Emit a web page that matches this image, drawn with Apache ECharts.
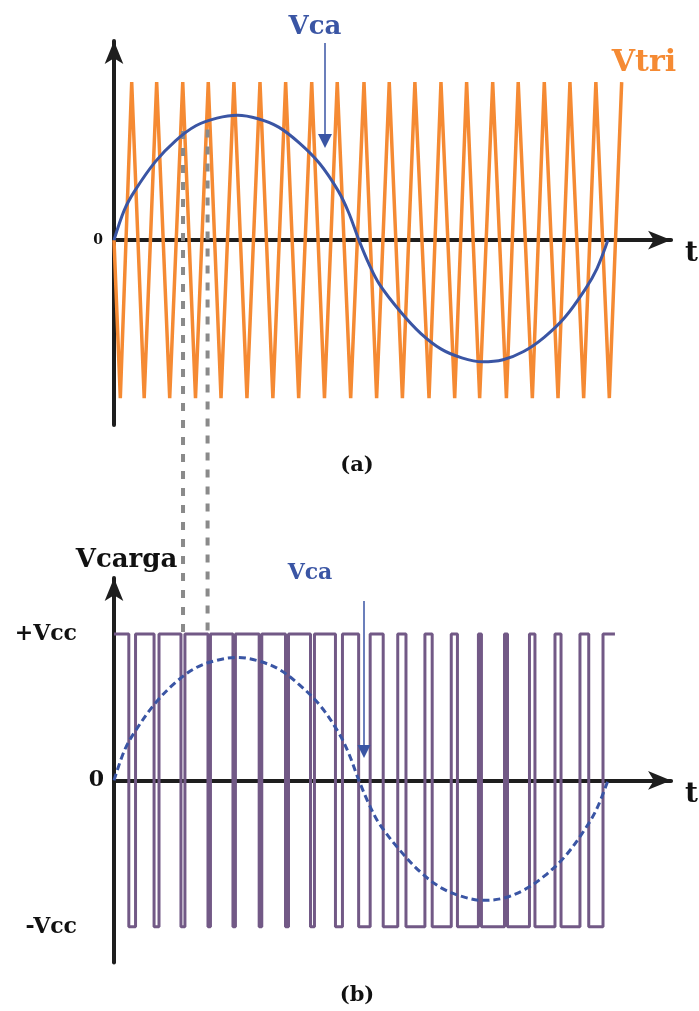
<!DOCTYPE html>
<html>
<head>
<meta charset="utf-8">
<script src="https://cdn.jsdelivr.net/npm/echarts@6/dist/echarts.min.js"></script>
<style>
  html, body { margin: 0; padding: 0; background: #ffffff; }
  #chart { width: 699px; height: 1011px; }
</style>
</head>
<body>
<div id="chart"></div>
<script>
// Modulating wave Vca: time in degrees of its period, value in carrier-peak units
const vcaTimes = [0, 7.5, 15, 30, 45, 60, 75, 90, 105, 120, 135, 150, 163.5, 171, 178.5,
  186, 193.5, 208.5, 223.5, 238.5, 253.5, 268.5, 283.5, 298.5, 313.5, 328.5, 343.5, 352, 360];
const vcaValues = [0, 0.19, 0.31, 0.495, 0.63, 0.725, 0.772, 0.79, 0.768, 0.715, 0.615, 0.483, 0.31, 0.175, 0,
  -0.155, -0.28, -0.45, -0.59, -0.69, -0.745, -0.77, -0.757, -0.705, -0.615, -0.49, -0.31, -0.18, 0];

// Triangular carrier Vtri: start value, then alternating valleys (-1) and peaks (+1)
const carrierStart = 0;
const carrierValleys = [4.6, 22.0, 40.6, 59.4, 78.0, 96.9, 115.8, 134.6, 153.4, 172.5,
  191.4, 210.2, 229.6, 248.3, 266.5, 286.0, 304.9, 323.6, 342.3, 361.0];
const carrierPeaks = [12.9, 31.1, 50.1, 68.7, 87.4, 106.4, 125.1, 144.1, 162.7, 182.2,
  200.6, 219.3, 238.3, 257.0, 276.0, 294.6, 313.6, 332.3, 351.2, 370.0];
const carrierLow = -1;
const carrierHigh = 1;

// Load voltage Vcarga: starts at +Vcc and toggles at each switching instant
const vccLevel = 0.94;
const switchTimes = [10.8, 15.7, 29.2, 32.8, 48.8, 51.7, 68.5, 70.3, 86.7, 88.5, 105.8, 107.7,
  125.0, 127.2, 143.2, 146.1, 161.4, 166.5, 178.3, 186.7, 196.2, 206.8, 212.8, 226.6, 231.9,
  245.8, 250.3, 265.6, 267.8, 284.6, 286.8, 302.8, 306.8, 321.4, 325.8, 339.6, 346.0, 356.4];
const pwmEnd = 365.1;

// Dotted projection lines from the comparison (a) down to the pulses (b)
const guideTimes = [50.3, 68.2];
const guideStartLevels = [0.69, 0.70];

// Pointer arrows for the Vca labels: [time, from value, to value]
const vcaPointerTop = [153.8, 1.247, 0.627];
const vcaPointerBottom = [182.2, 1.152, 0.186];

const timeMax = 406;

const ORANGE = '#F58A33';
const BLUE = '#3A55A4';
const PURPLE = '#725986';
const GRAY = '#8A8A8A';
const INK = '#1E1E1E';
const FONT = 'DejaVu Serif';

const vcaData = vcaTimes.map((t, i) => [t, vcaValues[i]]);

const carrierData = [[0, carrierStart]];
carrierValleys.forEach((t, i) => {
  carrierData.push([t, carrierLow]);
  carrierData.push([carrierPeaks[i], carrierHigh]);
});

const pwmData = [[0, vccLevel]];
let level = vccLevel;
switchTimes.forEach(t => {
  pwmData.push([t, level]);
  level = -level;
  pwmData.push([t, level]);
});
pwmData.push([pwmEnd, level]);

const chart = echarts.init(document.getElementById('chart'), null, { renderer: 'canvas' });

const arrowLine = {
  show: true,
  symbol: ['none', 'arrow'],
  symbolSize: [14, 23],
  lineStyle: { color: INK, width: 4 }
};

const timeAxis = gi => ({
  type: 'value', gridIndex: gi, min: 0, max: timeMax,
  axisLine: arrowLine,
  axisTick: { show: false },
  axisLabel: { show: false },
  splitLine: { show: false },
  name: 't', nameLocation: 'end', nameGap: 14,
  nameTextStyle: {
    fontFamily: FONT, fontSize: 28, fontWeight: 'bold', color: '#111',
    verticalAlign: 'top', lineHeight: 28
  }
});

const pointer = (p, size) => ({
  silent: true,
  animation: false,
  symbol: ['none', 'triangle'],
  symbolSize: size,
  label: { show: false },
  lineStyle: { color: BLUE, width: 1.5, type: 'solid' },
  data: [[{ coord: [p[0], p[1]] }, { coord: [p[0], p[2]] }]]
});

const option = {
  animation: false,
  textStyle: { fontFamily: FONT },
  grid: [
    { left: 114, top: 41, width: 557.5, height: 384 },
    { left: 114, top: 578, width: 557.5, height: 384.6 }
  ],
  xAxis: [timeAxis(0), timeAxis(1)],
  yAxis: [
    {
      type: 'value', gridIndex: 0, min: -1.17, max: 1.26,
      axisLine: arrowLine,
      axisTick: { show: false },
      splitLine: { show: false },
      axisLabel: {
        customValues: [0], margin: 11,
        fontFamily: FONT, fontSize: 14, fontWeight: 'bold', color: '#111'
      }
    },
    {
      type: 'value', gridIndex: 1, min: -1.17, max: 1.30,
      axisLine: arrowLine,
      axisTick: { show: false },
      splitLine: { show: false },
      name: 'Vcarga', nameLocation: 'end', nameGap: 5,
      nameTextStyle: {
        fontFamily: FONT, fontSize: 26, fontWeight: 'bold', color: '#111',
        lineHeight: 26, verticalAlign: 'bottom', align: 'center', padding: [0, 0, 0, 25]
      },
      axisLabel: {
        customValues: [-vccLevel, 0, vccLevel], margin: 10,
        fontFamily: FONT, fontSize: 22, fontWeight: 'bold', color: '#111',
        formatter: v => v > 0 ? '{v|+Vcc}' : (v < 0 ? '{v|-Vcc}' : '0'),
        rich: {
          v: { fontFamily: FONT, fontSize: 22, fontWeight: 'bold', color: '#111', padding: [0, 27, 0, 0] }
        }
      }
    }
  ],
  series: [
    {
      name: 'Vtri', type: 'line', xAxisIndex: 0, yAxisIndex: 0,
      data: carrierData, showSymbol: false, z: 2,
      lineStyle: { color: ORANGE, width: 3.5 }
    },
    {
      name: 'Vca', type: 'line', xAxisIndex: 0, yAxisIndex: 0,
      data: vcaData, smooth: 0.35, showSymbol: false, z: 4,
      lineStyle: { color: BLUE, width: 3 },
      markLine: pointer(vcaPointerTop, 14)
    },
    {
      name: 'Vcarga', type: 'line', xAxisIndex: 1, yAxisIndex: 1,
      data: pwmData, showSymbol: false, z: 2,
      lineStyle: { color: PURPLE, width: 3 }
    },
    {
      name: 'Vca ref', type: 'line', xAxisIndex: 1, yAxisIndex: 1,
      data: vcaData, smooth: 0.35, showSymbol: false, z: 4,
      lineStyle: { color: BLUE, width: 3, type: [7, 4] },
      markLine: pointer(vcaPointerBottom, 13)
    }
  ]
};

chart.setOption(option);

// Projection lines span both panels, so place them through each panel's own scales
const guides = guideTimes.map((t, i) => {
  const p0 = chart.convertToPixel({ gridIndex: 0 }, [t, guideStartLevels[i]]);
  const p1 = chart.convertToPixel({ gridIndex: 1 }, [t, vccLevel]);
  return {
    type: 'line', z: 3, silent: true,
    shape: { x1: p0[0], y1: p0[1], x2: p1[0], y2: p1[1] },
    style: { stroke: GRAY, lineWidth: 4, lineDash: [8, 9] }
  };
});

const label = (text, x, y, size, color) => ({
  type: 'text', x: x, y: y, silent: true, z: 5,
  style: {
    text: text, fill: color, align: 'center', verticalAlign: 'middle',
    font: 'bold ' + size + 'px "' + FONT + '"'
  }
});

chart.setOption({
  graphic: [
    label('Vca', 315, 27, 26, BLUE),
    label('Vtri', 644, 63, 30, ORANGE),
    label('(a)', 357, 466, 21, '#111'),
    label('Vca', 310, 573, 22, BLUE),
    label('(b)', 357, 996, 21, '#111')
  ].concat(guides)
});
</script>
</body>
</html>
